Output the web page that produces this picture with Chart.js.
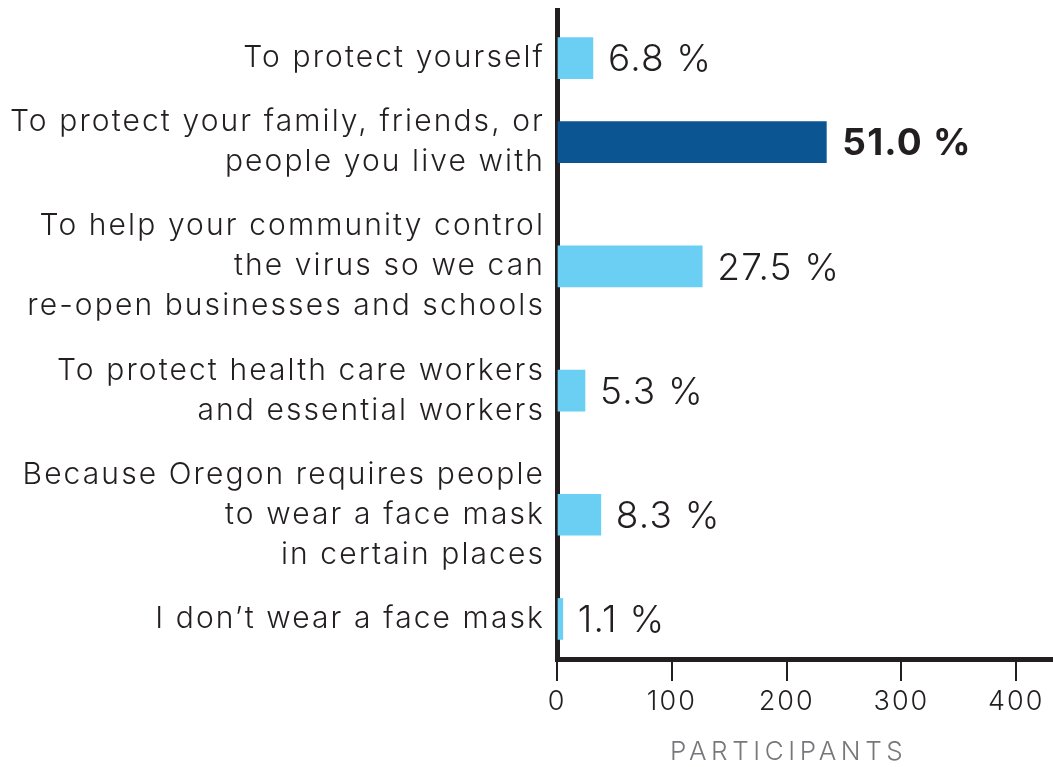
<!DOCTYPE html>
<html>
<head>
<meta charset="utf-8">
<script src="https://cdn.jsdelivr.net/npm/chart.js@4/dist/chart.umd.min.js"></script>
<style>
  html, body { margin: 0; padding: 0; background: #fff; }
  #wrap { width: 1053px; height: 767px; }
</style>
</head>
<body>
<div id="wrap"><canvas id="reasons-chart" width="1053" height="767"></canvas></div>
<script>
// Why do you wear a face mask? (share of participants)
const reasons = [
    ['To protect yourself'],
    ['To protect your family, friends, or', 'people you live with'],
    ['To help your community control', 'the virus so we can', 're-open businesses and schools'],
    ['To protect health care workers', 'and essential workers'],
    ['Because Oregon requires people', 'to wear a face mask', 'in certain places'],
    ['I don\u2019t wear a face mask']
];
const percents = [6.8, 51.0, 27.5, 5.3, 8.3, 1.1];
const totalParticipants = 460;
const xTicks = [0, 100, 200, 300, 400];
const highlightIndex = 1;

const FONT = "Inter, 'Open Sans', sans-serif";
const INK = '#231f20';
const LIGHT = '#6bcff3';
const DARK = '#0b5593';
const LINE_PX = 40;

// rows are as tall as their label; centers in "line" units
const rowGap = 0.6;
const rowCenters = [];
let acc = 0;
reasons.forEach(lines => {
    const h = lines.length + rowGap;
    rowCenters.push(acc + h / 2);
    acc += h;
});

const points = percents.map((p, i) => ({ x: p * totalParticipants / 100, y: rowCenters[i] }));

// wide tracking for all axis text
const tracking = {
    id: 'tracking',
    beforeDraw(chart) { chart.ctx.letterSpacing = '2px'; }
};

const categoryLabels = {
    id: 'categoryLabels',
    afterDraw(chart) {
        const { ctx, chartArea } = chart;
        const y = chart.scales.y;
        ctx.save();
        ctx.fillStyle = INK;
        ctx.font = '300 30px ' + FONT;
        ctx.letterSpacing = '2.1px';
        ctx.textAlign = 'right';
        ctx.textBaseline = 'middle';
        reasons.forEach((lines, i) => {
            const cy = y.getPixelForValue(rowCenters[i]);
            lines.forEach((line, j) => {
                const ly = cy + (j - (lines.length - 1) / 2) * LINE_PX;
                ctx.fillText(line, chartArea.left - 12, ly);
            });
        });
        ctx.restore();
    }
};

const valueLabels = {
    id: 'valueLabels',
    afterDatasetsDraw(chart) {
        const { ctx } = chart;
        const meta = chart.getDatasetMeta(0);
        ctx.save();
        ctx.fillStyle = INK;
        ctx.textBaseline = 'middle';
        ctx.textAlign = 'left';
        ctx.letterSpacing = '1.2px';
        meta.data.forEach((bar, i) => {
            const bold = i === highlightIndex;
            ctx.font = (bold ? '700 ' : '300 ') + '37px ' + FONT;
            ctx.fillText(percents[i].toFixed(1) + ' %', bar.x + (bold ? 16 : 15), bar.y + 2);
        });
        ctx.restore();
    }
};

const axisTitle = {
    id: 'axisTitle',
    afterDraw(chart) {
        const { ctx } = chart;
        const x = chart.scales.x.getPixelForValue(200);
        ctx.save();
        ctx.fillStyle = '#77787b';
        ctx.font = '300 26px ' + FONT;
        ctx.letterSpacing = '4.6px';
        ctx.textAlign = 'center';
        ctx.textBaseline = 'middle';
        ctx.fillText('PARTICIPANTS', x + 2, 752);
        ctx.restore();
    }
};

new Chart(document.getElementById('reasons-chart'), {
    type: 'bar',
    data: {
        datasets: [{
            data: points,
            backgroundColor: percents.map((_, i) => i === highlightIndex ? DARK : LIGHT),
            barThickness: 41,
            borderWidth: 0
        }]
    },
    options: {
        indexAxis: 'y',
        responsive: false,
        animation: false,
        devicePixelRatio: 1,
        layout: { padding: { top: 10, right: 0, left: 0, bottom: 0 } },
        plugins: {
            legend: { display: false },
            tooltip: { enabled: false }
        },
        scales: {
            x: {
                type: 'linear',
                min: 0,
                max: 432,
                afterBuildTicks: scale => { scale.ticks = xTicks.map(v => ({ value: v })); },
                afterFit: scale => { scale.height = 108; },
                ticks: {
                    color: INK,
                    font: { family: FONT, size: 27, weight: 300 },
                    padding: 5,
                    maxRotation: 0,
                    autoSkip: false
                },
                grid: {
                    drawOnChartArea: false,
                    drawTicks: true,
                    tickLength: 22,
                    lineWidth: 2,
                    color: INK
                },
                border: { display: true, width: 5, color: INK }
            },
            y: {
                type: 'linear',
                reverse: true,
                offset: false,
                bounds: 'data',
                grace: 0,
                min: -0.4,
                max: 15.8,
                afterBuildTicks: scale => { scale.ticks = rowCenters.map(v => ({ value: v })); },
                afterFit: scale => { scale.width = 557; },
                ticks: { display: false },
                grid: { offset: false, drawOnChartArea: false, drawTicks: false, color: 'rgba(0,0,0,0)' },
                border: { display: true, width: 5, color: INK }
            }
        }
    },
    plugins: [tracking, valueLabels, categoryLabels, axisTitle]
});
</script>
</body>
</html>
